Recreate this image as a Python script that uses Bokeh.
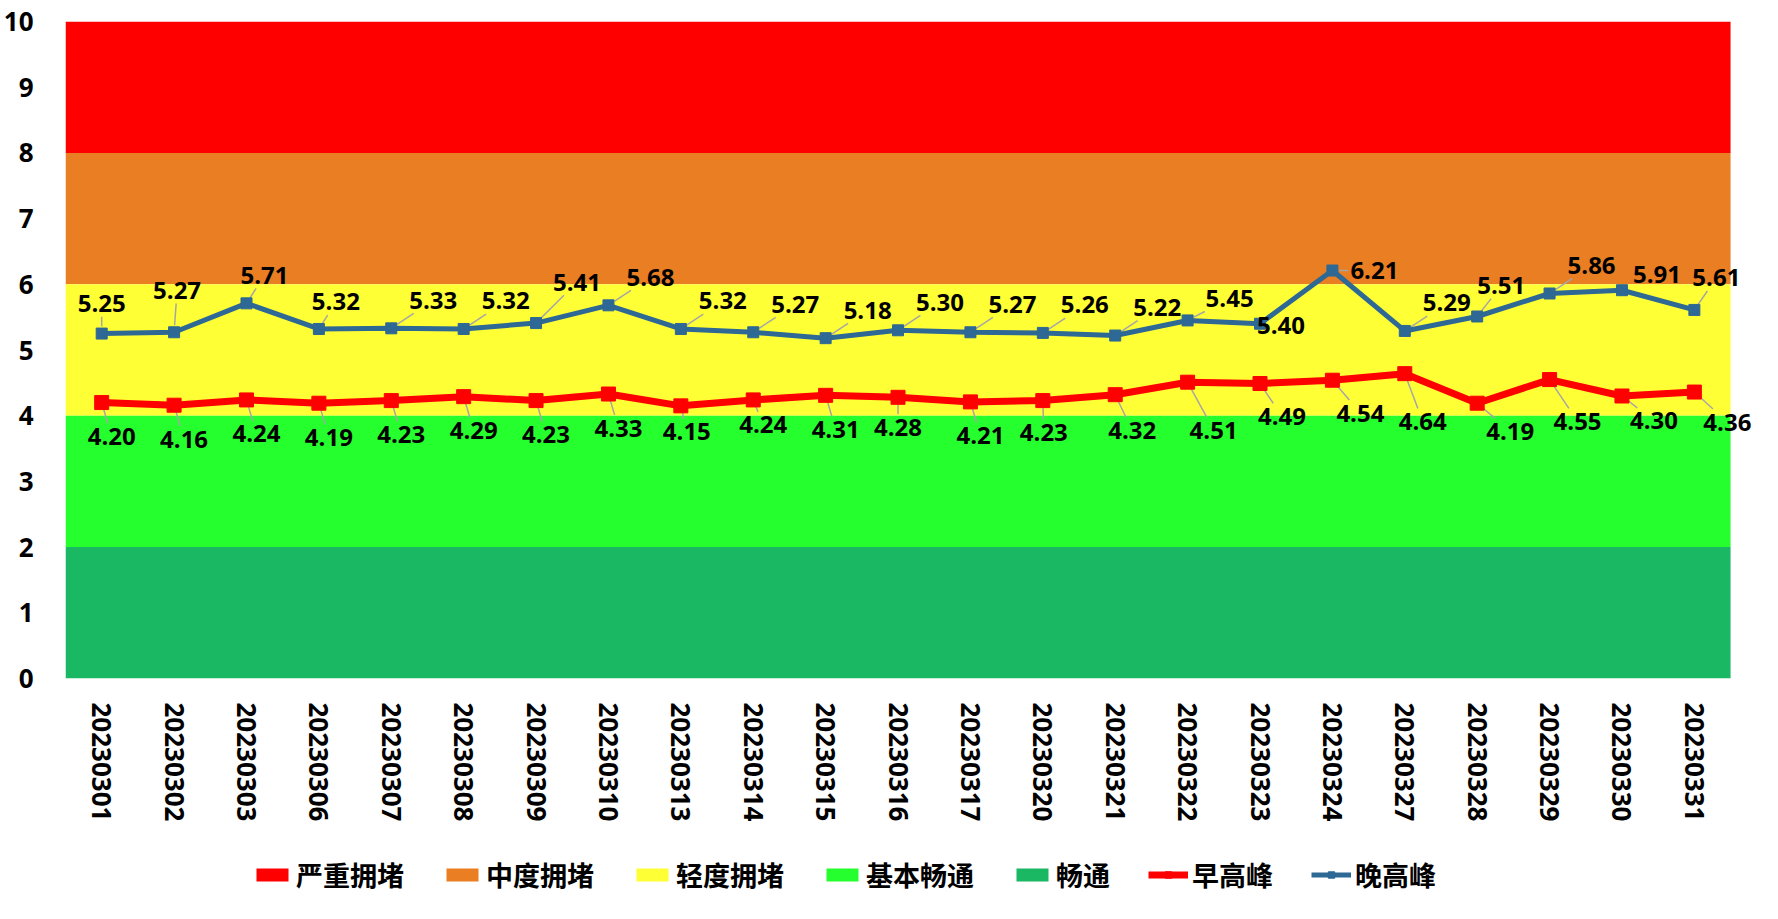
import math
from bokeh.plotting import figure
from bokeh.layouts import column
from bokeh.models import FixedTicker, Legend, LegendItem, ColumnDataSource, Range1d, LabelSet
from bokeh.core.properties import value
from bokeh.embed import file_html
from bokeh.resources import INLINE

dates = ["20230301", "20230302", "20230303", "20230306", "20230307", "20230308",
         "20230309", "20230310", "20230313", "20230314", "20230315", "20230316",
         "20230317", "20230320", "20230321", "20230322", "20230323", "20230324",
         "20230327", "20230328", "20230329", "20230330", "20230331"]
morning = [4.20, 4.16, 4.24, 4.19, 4.23, 4.29, 4.23, 4.33, 4.15, 4.24, 4.31, 4.28,
           4.21, 4.23, 4.32, 4.51, 4.49, 4.54, 4.64, 4.19, 4.55, 4.30, 4.36]
evening = [5.25, 5.27, 5.71, 5.32, 5.33, 5.32, 5.41, 5.68, 5.32, 5.27, 5.18, 5.30,
           5.27, 5.26, 5.22, 5.45, 5.40, 6.21, 5.29, 5.51, 5.86, 5.91, 5.61]
band_names = ["严重拥堵", "中度拥堵", "轻度拥堵", "基本畅通", "畅通"]
band_low = [8, 6, 4, 2, 0]
band_high = [10, 8, 6, 4, 2]
band_colors = ["#FF0000", "#E97E22", "#FFFF35", "#25FF2D", "#1AB862"]
series_names = ["早高峰", "晚高峰"]
y_ticks = list(range(0, 11))

# data-label placement style (screen px, +y = up)
EVE_OFF = (42, 28)
EVE_OVR = {0: (0, 30), 1: (3, 42), 2: (18, 28), 3: (17, 27), 6: (41, 41),
           15: (42, 22), 16: (21, -2), 17: (42, 0), 19: (24, 31), 21: (35, 16), 22: (22, 32)}
MOR_OFF = (10, -34)
MOR_OVR = {8: (6, -26), 9: (10, -25), 11: (0, -30), 13: (1, -32), 14: (17, -36),
           15: (26, -48), 16: (22, -33), 17: (28, -33), 18: (18, -48), 19: (33, -28),
           20: (28, -42), 21: (32, -25), 22: (33, -30)}

n = len(dates)
xs = list(range(n))

# layout (px)
W = 1762
LEFT, TOP, BOTTOM, RIGHT = 61, 21, 142, 6
FRAME_H = 661
H1 = TOP + FRAME_H + BOTTOM
H2 = 903 - H1
BAND_W = 1669                 # width of the coloured plot area
FRAME_W = W - LEFT - RIGHT    # extra room on the right for overflowing labels
PX_X = BAND_W / n
PX_Y = FRAME_H / 10.0
x_end = n - 0.5 + (FRAME_W - BAND_W) / PX_X

p = figure(width=W, height=H1, output_backend="svg", toolbar_location=None,
           x_range=Range1d(-0.5, x_end), y_range=Range1d(0, 10),
           min_border_left=LEFT, min_border_top=TOP, min_border_right=RIGHT,
           min_border_bottom=BOTTOM)
p.outline_line_color = None
p.xgrid.visible = False
p.ygrid.visible = False

for lo, hi, c in zip(band_low, band_high, band_colors):
    p.quad(left=-0.5, right=n - 0.5, bottom=lo, top=hi, fill_color=c, line_color=None)

eox = [EVE_OVR.get(i, EVE_OFF)[0] for i in xs]
eoy = [EVE_OVR.get(i, EVE_OFF)[1] for i in xs]
mox = [MOR_OVR.get(i, MOR_OFF)[0] for i in xs]
moy = [MOR_OVR.get(i, MOR_OFF)[1] for i in xs]

# leader lines from point to the label box edge
def leaders(vals, ox, oy):
    x0s, y0s, x1s, y1s = [], [], [], []
    for i, v in enumerate(vals):
        dx, dy = ox[i], oy[i]
        t = max(abs(dx) / 26.0, abs(dy) / 13.0)
        dist = math.hypot(dx, dy)
        if t < 1.6 or dist < 24:
            continue
        f1 = 1 - 1.0 / t
        f0 = 7.0 / dist
        x0s.append(i + dx * f0 / PX_X); y0s.append(v + dy * f0 / PX_Y)
        x1s.append(i + dx * f1 / PX_X); y1s.append(v + dy * f1 / PX_Y)
    return x0s, y0s, x1s, y1s

for vals, ox, oy in ((evening, eox, eoy), (morning, mox, moy)):
    a, b, c, d = leaders(vals, ox, oy)
    p.segment(a, b, c, d, line_color="#A6A6A6", line_width=1.5)

src = ColumnDataSource(dict(
    x=xs, m=morning, e=evening,
    ml=["%.2f" % v for v in morning],
    el=["%.2f" % v for v in evening],
    eox=eox, eoy=eoy, mox=mox, moy=moy))

red = "#FF0000"
blue = "#2E6894"
p.line("x", "m", source=src, line_color=red, line_width=7)
p.scatter("x", "m", source=src, marker="square", size=14, fill_color=red, line_color=red)
p.line("x", "e", source=src, line_color=blue, line_width=5)
p.scatter("x", "e", source=src, marker="square", size=11, fill_color=blue, line_color=blue)

common = dict(text_font=value("Open Sans"), text_font_style="bold", text_font_size="24px",
              text_align="center", text_baseline="middle", text_color="black")
p.add_layout(LabelSet(x="x", y="e", text="el", source=src, x_offset="eox", y_offset="eoy", **common))
p.add_layout(LabelSet(x="x", y="m", text="ml", source=src, x_offset="mox", y_offset="moy", **common))

p.xaxis.ticker = FixedTicker(ticks=xs)
p.xaxis.major_label_overrides = {i: d for i, d in enumerate(dates)}
p.xaxis.major_label_orientation = -math.pi / 2
p.yaxis.ticker = FixedTicker(ticks=y_ticks)
for ax in (p.xaxis, p.yaxis):
    ax.axis_line_color = None
    ax.major_tick_line_color = None
    ax.minor_tick_line_color = None
    ax.major_label_text_font = "Open Sans"
    ax.major_label_text_font_style = "bold"
    ax.major_label_text_color = "black"
p.xaxis.major_label_text_font_size = "26px"
p.yaxis.major_label_text_font_size = "26px"
p.xaxis.major_label_standoff = 18
p.yaxis.major_label_standoff = 26

# legend strip below the chart (renderers hold NaN so only their legend glyphs show)
lg = figure(width=W, height=H2, output_backend="svg", toolbar_location=None,
            x_range=Range1d(0, 1), y_range=Range1d(0, 1),
            min_border_left=LEFT, min_border_top=21, min_border_right=RIGHT, min_border_bottom=0)
lg.axis.visible = False
lg.grid.visible = False
lg.outline_line_color = None
nan = float("nan")
items = []
for name, c in zip(band_names, band_colors):
    r = lg.quad(left=[nan], right=[nan], bottom=[nan], top=[nan], fill_color=c, line_color=None)
    items.append(LegendItem(label=name, renderers=[r]))
for name, c, lw, ms in zip(series_names, [red, blue], [7, 5], [14, 11]):
    r1 = lg.line(x=[nan], y=[nan], line_color=c, line_width=lw)
    r2 = lg.scatter(x=[nan], y=[nan], marker="square", size=ms, fill_color=c, line_color=c)
    items.append(LegendItem(label=name, renderers=[r1, r2]))
legend = Legend(items=items, orientation="horizontal", location="left",
                label_text_font="Noto Sans CJK SC", label_text_font_style="bold",
                label_text_font_size="27px", label_text_color="black",
                glyph_width=40, glyph_height=16,
                label_standoff=4, spacing=38, border_line_color=None,
                background_fill_alpha=0, margin=187, padding=0)
lg.add_layout(legend, "center")

layout = column(p, lg, spacing=0)
open("out.html", "w").write(file_html(layout, INLINE))
